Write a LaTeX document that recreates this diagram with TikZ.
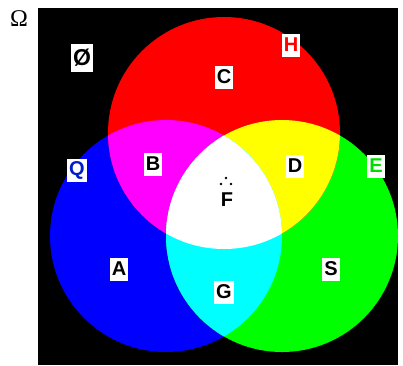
\documentclass[tikz,border=0pt]{standalone}
\usepackage{fontspec}
\setmainfont{Liberation Sans}
\newfontfamily\serifface{Liberation Serif}
\definecolor{cR}{RGB}{255,0,0}
\definecolor{cG}{RGB}{0,255,0}
\definecolor{cB}{RGB}{0,0,255}
\definecolor{cM}{RGB}{255,0,255}
\definecolor{cY}{RGB}{255,255,0}
\definecolor{cC}{RGB}{0,255,255}
\definecolor{cQ}{RGB}{0,30,200}
\definecolor{cE}{RGB}{0,220,0}
\begin{document}
\begin{tikzpicture}[x=1pt,y=-1pt,
  lbl/.style={fill=white,inner xsep=2pt,inner ysep=2pt,font=\fontsize{20}{20}\selectfont\bfseries,text=black,minimum height=23pt},
  ]
\useasboundingbox (0,0) rectangle (403,365);
% universe
\fill[black] (38,8) rectangle (398,365);
\node[font=\serifface\fontsize{24}{24}\selectfont] (omega) at (19,19) {Ω};
% circles
\def\rad{116}
\coordinate (cr) at (224,133);
\coordinate (cb) at (166,236);
\coordinate (cg) at (282,236);
\fill[cB] (cb) circle (\rad);
\fill[cG] (cg) circle (\rad);
\fill[cR] (cr) circle (\rad);
\begin{scope}
  \clip (cr) circle (\rad);
  \fill[cM] (cb) circle (\rad);
  \fill[cY] (cg) circle (\rad);
\end{scope}
\begin{scope}
  \clip (cb) circle (\rad);
  \fill[cC] (cg) circle (\rad);
  \clip (cg) circle (\rad);
  \fill[white] (cr) circle (\rad);
\end{scope}
% labels
\node[lbl,font=\fontsize{23}{23}\selectfont\bfseries,minimum height=28pt] (empty) at (82,58) {Ø};
\node[lbl] (C) at (224,77) {C};
\node[lbl,text=cR] (H) at (291,45) {H};
\node[lbl] (B) at (153,164) {B};
\node[lbl] (D) at (295,166) {D};
\node[lbl,text=cQ] (Q) at (77,170) {Q};
\node[lbl,text=cE] (E) at (376,166) {E};
\node[lbl] (F) at (227,200) {F};
\fill (226,178) circle (1.4) (221,184) circle (1.4) (231,184) circle (1.4);
\node[lbl] (A) at (119,269) {A};
\node[lbl] (G) at (224,292) {G};
\node[lbl] (S) at (331,269) {S};
\end{tikzpicture}
\end{document}
